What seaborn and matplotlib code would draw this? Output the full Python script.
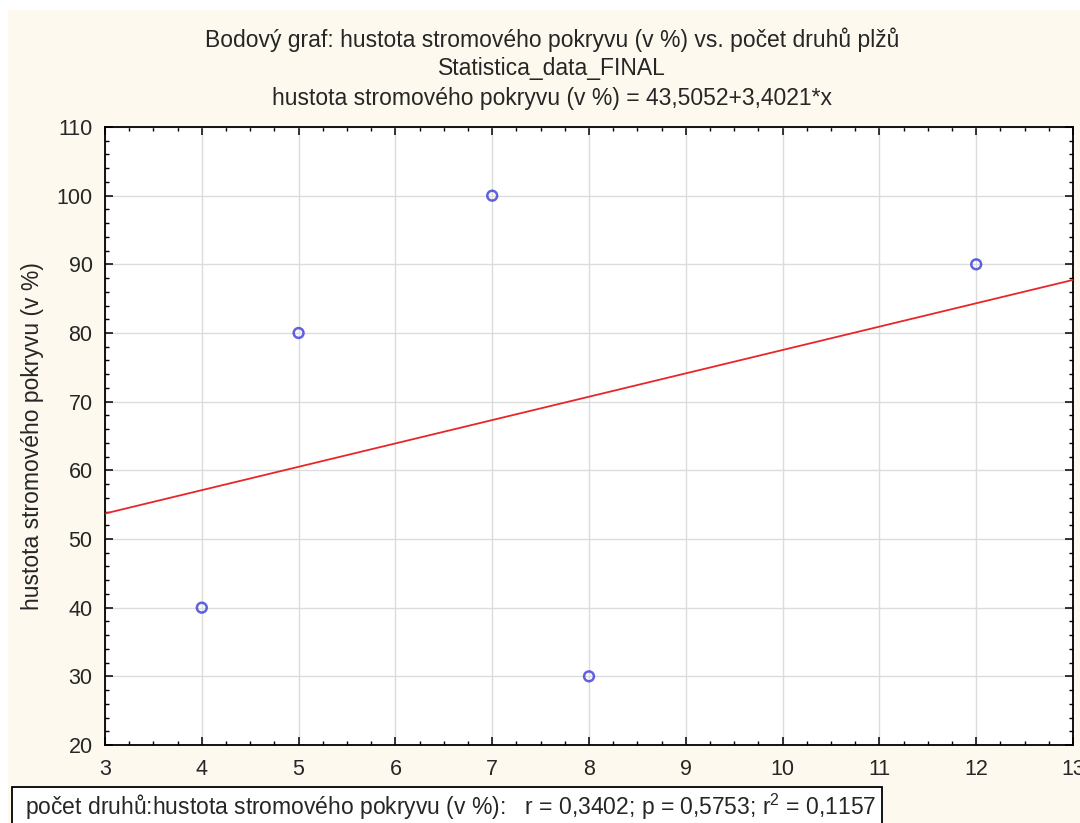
import matplotlib
matplotlib.use("Agg")
import matplotlib.pyplot as plt
from matplotlib.patches import Rectangle
from matplotlib.ticker import MultipleLocator
import seaborn as sns
import pandas as pd
import numpy as np

# Data
species_count = [4, 5, 7, 8, 12]
tree_cover = [40, 80, 100, 30, 90]
x_ticks = [3, 4, 5, 6, 7, 8, 9, 10, 11, 12, 13]
y_ticks = [20, 30, 40, 50, 60, 70, 80, 90, 100, 110]

title_lines = [
    "Bodový graf: hustota stromového pokryvu (v %) vs. počet druhů plžů",
    "Statistica_data_FINAL",
    "hustota stromového pokryvu (v %) = 43,5052+3,4021*x",
]
y_label = "hustota stromového pokryvu (v %)"
stats_text = "počet druhů:hustota stromového pokryvu (v %):   r = 0,3402; p = 0,5753; r$^{2}$ = 0,1157"

sns.set_style("white")
plt.rcParams["font.family"] = ["Liberation Sans", "DejaVu Sans"]
plt.rcParams["mathtext.default"] = "regular"

df = pd.DataFrame({"x": species_count, "y": tree_cover})

W, H = 1080, 823
FS = 16.5
fig = plt.figure(figsize=(W / 100, H / 100), dpi=100)
fig.patch.set_facecolor("white")

# cream background panel
fig.patches.append(Rectangle((8 / W, 0), 1, 1 - 10 / H, transform=fig.transFigure,
                             facecolor="#FDF9EE", edgecolor="none", zorder=-10))

ax = fig.add_axes([105 / W, 1 - 745 / H, (1073 - 105) / W, (745 - 127) / H])
ax.set_zorder(1)
ax.set_facecolor("white")
ax.set_xlim(3, 13)
ax.set_ylim(20, 110)

sns.regplot(data=df, x="x", y="y", ax=ax, ci=None, truncate=False,
            scatter_kws=dict(facecolors="none", edgecolors="#3B3BD8", s=50,
                             linewidths=1.8, zorder=4),
            line_kws=dict(color="#E8262A", lw=1.3, zorder=3))

ax.set_xlim(3, 13)
ax.set_ylim(20, 110)
ax.set_xticks(x_ticks)
ax.set_yticks(y_ticks)
ax.xaxis.set_minor_locator(MultipleLocator(0.25))
ax.yaxis.set_minor_locator(MultipleLocator(2))
ax.tick_params(which="both", direction="in", top=True, right=True,
               bottom=True, left=True, color="black")
ax.tick_params(which="major", length=6, width=1.1, labelsize=15.5)
ax.tick_params(axis="x", which="major", pad=10)
ax.tick_params(axis="y", which="major", pad=9)
ax.tick_params(which="minor", length=3, width=1.0)
ax.grid(True, which="major", color="#DCDCDC", lw=1.0)
ax.set_axisbelow(True)
for s in ax.spines.values():
    s.set_color("black")
    s.set_linewidth(1.3)
    s.set_visible(True)

ax.set_xlabel("")
ax.set_ylabel(y_label, fontsize=FS)
ax.yaxis.set_label_coords(-61 / (1073 - 105), 0.5)

for line, ypix in zip(title_lines, [40, 68, 98]):
    fig.text(552 / W, 1 - ypix / H, line, ha="center", va="center", fontsize=FS)

# stats box
fig.patches.append(Rectangle((12 / W, -0.02), (882 - 12) / W, 0.02 + 1 - 787 / H,
                             transform=fig.transFigure, facecolor="white",
                             edgecolor="black", lw=1.3, zorder=2))
fig.text(25 / W, 1 - 807 / H, stats_text, ha="left", va="center", fontsize=FS, zorder=3)

fig.savefig("out.png", dpi=100)
